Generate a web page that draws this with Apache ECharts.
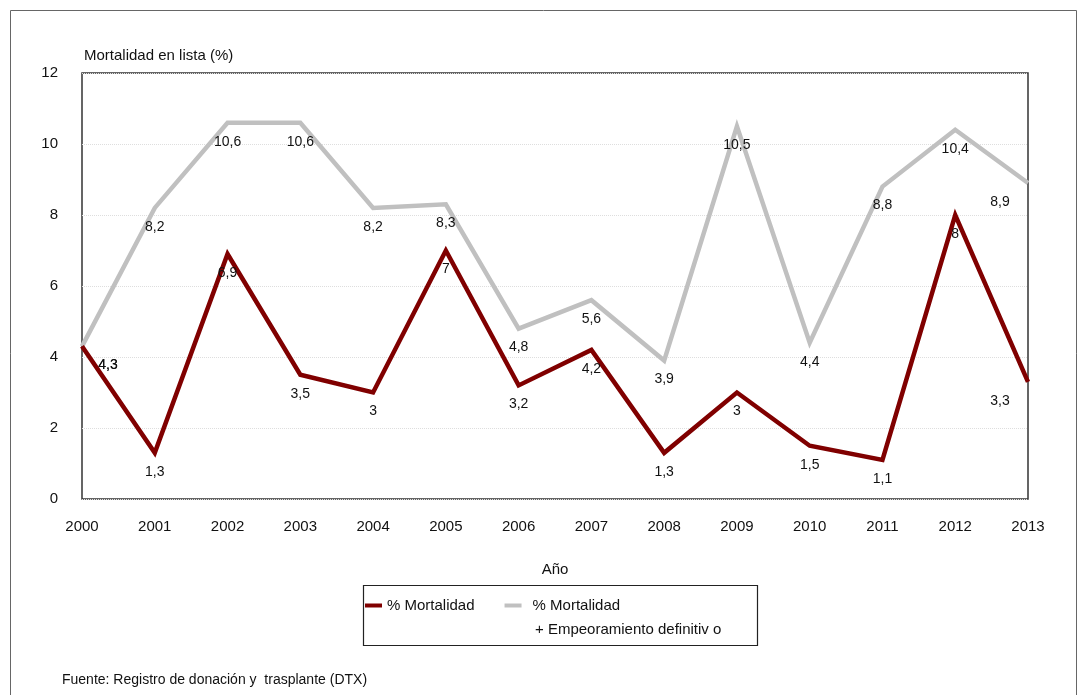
<!DOCTYPE html>
<html>
<head>
<meta charset="utf-8">
<script src="https://cdn.jsdelivr.net/npm/echarts@6/dist/echarts.min.js"></script>
<style>
html,body{margin:0;padding:0;background:#fff;}
#main{width:1081px;height:695px;}
</style>
</head>
<body>
<div id="main"></div>
<script>
var years = ['2000','2001','2002','2003','2004','2005','2006','2007','2008','2009','2010','2011','2012','2013'];
var mortalidad = [4.3, 1.3, 6.9, 3.5, 3, 7, 3.2, 4.2, 1.3, 3, 1.5, 1.1, 8, 3.3];
var mortalidadEmpeor = [4.3, 8.2, 10.6, 10.6, 8.2, 8.3, 4.8, 5.6, 3.9, 10.5, 4.4, 8.8, 10.4, 8.9];
var yTicks = [0, 2, 4, 6, 8, 10, 12];

var fnt = "'Liberation Sans', Arial, sans-serif";

// labels del primer y ultimo punto van corridos hacia dentro
function withLabels(arr){
	var out = [];
	for(var i = 0; i < arr.length; i++){
		var item = {value: arr[i]};
		if(i == 0){
			item.label = {offset: [26, 0]};
		}else if(i == arr.length - 1){
			item.label = {offset: [-28, 0]};
		}
		out.push(item);
	}
	return out;
}

function fmtComa(p){
	return String(p.value).replace('.', ',');
}

var myChart = echarts.init(document.getElementById('main'));
myChart.setOption({
	animation: false,
	backgroundColor: '#fff',
	textStyle: {fontFamily: fnt},
	grid: {
		left: 82,
		right: 53,
		top: 73,
		bottom: 196,
		show: true,
		borderColor: '#333',
		borderWidth: 1.5,
		backgroundColor: 'transparent'
	},
	legend: {
		left: 360,
		top: 593,
		itemWidth: 17,
		itemHeight: 4,
		itemGap: 30,
		icon: 'rect',
		textStyle: {fontFamily: fnt, fontSize: 15, color: '#111'},
		data: [
			{name: '% Mortalidad'},
			{name: '% Mortalidad ', textStyle: {padding: [0, 0, 0, 6]}}
		]
	},
	xAxis: {
		type: 'category',
		data: years,
		boundaryGap: false,
		name: 'Año',
		nameLocation: 'middle',
		nameGap: 63,
		nameTextStyle: {fontFamily: fnt, fontSize: 15, color: '#111'},
		axisLine: {show: false},
		axisTick: {show: false},
		axisLabel: {margin: 20, fontFamily: fnt, fontSize: 15, color: '#111'}
	},
	yAxis: {
		type: 'value',
		min: yTicks[0],
		max: yTicks[yTicks.length - 1],
		interval: 2,
		name: 'Mortalidad en lista (%)',
		nameLocation: 'end',
		nameGap: 10,
		nameTextStyle: {fontFamily: fnt, fontSize: 15, color: '#111', align: 'left', padding: [0, 0, 0, 2]},
		axisLine: {show: false},
		axisTick: {show: false},
		axisLabel: {margin: 24, fontFamily: fnt, fontSize: 15, color: '#111'},
		splitLine: {lineStyle: {color: '#dedede', type: 'dotted', width: 1}}
	},
	series: [
		{
			name: '% Mortalidad ',
			type: 'line',
			data: withLabels(mortalidadEmpeor),
			symbol: 'circle',
			symbolSize: 0,
			showSymbol: true,
			color: '#c0c0c0',
			lineStyle: {color: '#c0c0c0', width: 4.5, join: 'miter'},
			label: {
				show: true,
				position: 'bottom',
				distance: 12,
				fontFamily: fnt,
				fontSize: 14,
				color: '#111',
				formatter: fmtComa
			},
			z: 2
		},
		{
			name: '% Mortalidad',
			type: 'line',
			data: withLabels(mortalidad),
			symbol: 'circle',
			symbolSize: 0,
			showSymbol: true,
			color: '#800000',
			lineStyle: {color: '#800000', width: 4.5, join: 'miter'},
			label: {
				show: true,
				position: 'bottom',
				distance: 12,
				fontFamily: fnt,
				fontSize: 14,
				color: '#111',
				formatter: fmtComa
			},
			z: 3
		}
	],
	graphic: [
		{
			type: 'rect',
			shape: {x: 10.5, y: 10.5, width: 1066, height: 700},
			style: {fill: 'none', stroke: '#666', lineWidth: 1},
			silent: true
		},
		{
			type: 'rect',
			shape: {x: 363.5, y: 585.5, width: 394, height: 60},
			style: {fill: 'none', stroke: '#222', lineWidth: 1.2},
			silent: true
		},
		{
			type: 'text',
			left: 535,
			top: 622,
			style: {text: '+ Empeoramiento definitiv o', font: '15px ' + fnt, fill: '#111'}
		},
		{
			type: 'text',
			left: 62,
			top: 673,
			style: {text: 'Fuente: Registro de donación y  trasplante (DTX)', font: '14px ' + fnt, fill: '#111'}
		}
	]
});
</script>
</body>
</html>
